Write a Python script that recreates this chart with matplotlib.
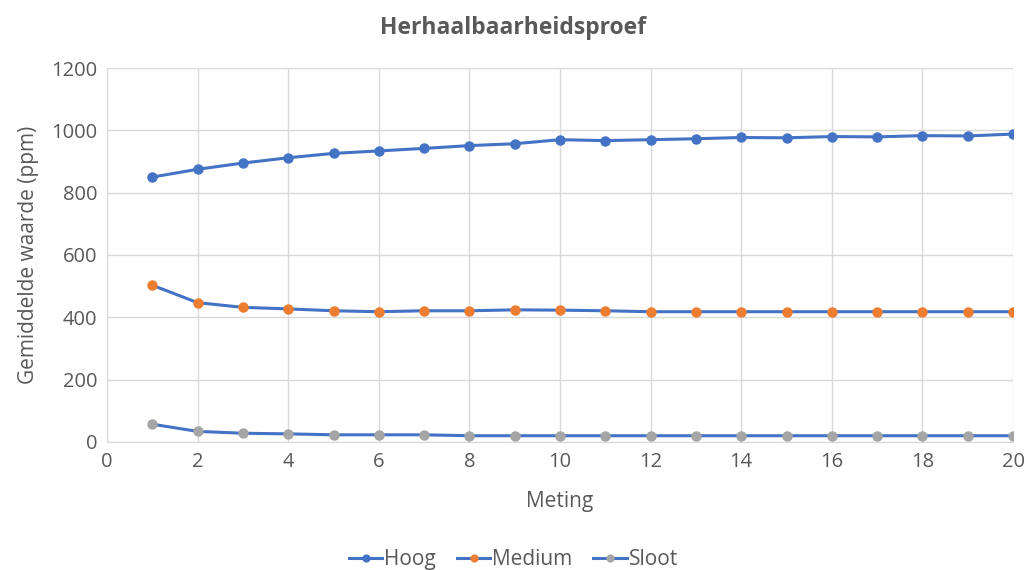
import numpy as np
import matplotlib
matplotlib.use("Agg")
import matplotlib.pyplot as plt

plt.rcParams["font.family"] = ["Open Sans", "DejaVu Sans"]

# meetwaarden per meting
meting = list(range(1, 21))
hoog = [850, 875, 895, 912, 926, 934, 942, 951, 957, 970,
        967, 970, 973, 977, 976, 980, 979, 983, 982, 988]
medium = [503, 447, 432, 427, 421, 418, 421, 421, 424, 423,
          421, 418, 418, 418, 418, 418, 418, 418, 418, 418]
sloot = [57, 34, 28, 26, 23, 23, 23, 20, 20, 20,
         20, 20, 20, 20, 20, 20, 20, 20, 20, 20]

lijn_kleur = "#4472C4"
tekst_kleur = "#595959"
grid_kleur = "#D9D9D9"

fig = plt.figure(figsize=(10.27, 5.70), dpi=100)
ax = fig.add_axes([0.1042, 0.2246, 0.8822, 0.6561])

reeksen = [("Hoog", hoog, "#4472C4"),
           ("Medium", medium, "#ED7D31"),
           ("Sloot", sloot, "#A5A5A5")]
for naam, waarden, kleur in reeksen:
    ax.plot(meting, waarden, color=lijn_kleur, lw=2.2, marker="o",
            markersize=6.5, markerfacecolor=kleur, markeredgecolor=kleur,
            label=naam, zorder=3)

ax.set_xlim(0, 20)
ax.set_ylim(0, 1200)
ax.set_xticks(np.arange(0, 21, 2))
ax.set_yticks(np.arange(0, 1201, 200))
ax.grid(True, color=grid_kleur, lw=1)
ax.set_axisbelow(True)
ax.tick_params(length=0, labelsize=14.5, labelcolor=tekst_kleur, pad=7)
for kant in ["top", "right"]:
    ax.spines[kant].set_visible(False)
for kant in ["left", "bottom"]:
    ax.spines[kant].set_color(grid_kleur)

ax.set_xlabel("Meting", fontsize=15, color=tekst_kleur, labelpad=14)
ax.set_ylabel("Gemiddelde waarde (ppm)", fontsize=15, color=tekst_kleur, labelpad=9)
fig.text(0.5, 0.951, "Herhaalbaarheidsproef", ha="center", va="center",
         fontsize=16.5, fontweight="bold", color=tekst_kleur)

fig.legend(loc="center", bbox_to_anchor=(0.5, 0.018), ncol=3, frameon=False,
           fontsize=15, labelcolor=tekst_kleur, handlelength=1.6,
           handletextpad=0.1, columnspacing=1.0, markerscale=0.75)

fig.savefig("out.png", dpi=100)
